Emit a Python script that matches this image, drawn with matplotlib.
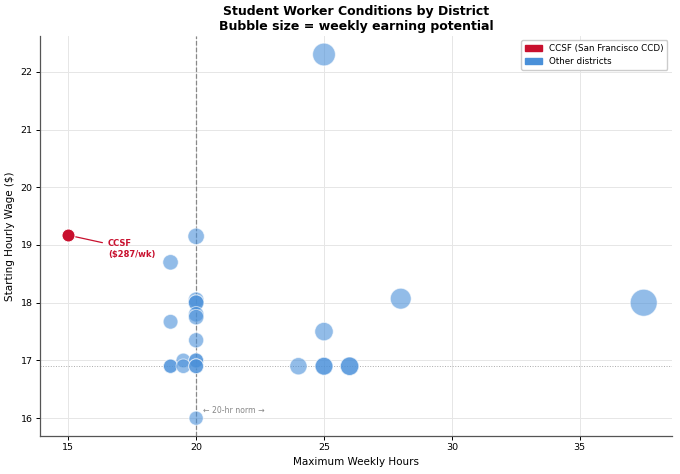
import numpy as np
import matplotlib
matplotlib.use('Agg')
import matplotlib.pyplot as plt
from matplotlib.patches import Patch

# CCSF point
ccsf_hours = [15]
ccsf_wage = [19.17]

# other districts (max weekly hours, starting hourly wage)
other_hours = [25, 20, 19, 20, 20, 20, 20, 20, 19, 20, 19.5, 20, 20,
               19, 19, 19.5, 20, 20, 20, 24, 25, 25, 26, 26, 25, 28, 37.5]
other_wage = [22.3, 19.15, 18.7, 18.05, 18.0, 18.0, 17.8, 17.75, 17.67, 17.35, 17.0, 17.0, 17.0,
              16.9, 16.9, 16.9, 16.9, 16.9, 16.0, 16.9, 16.9, 16.9, 16.9, 16.9, 17.5, 18.07, 18.0]

median_wage = 16.9
norm_hours = 20


def bubble_size(hours, wage):
    weekly = np.array(hours) * np.array(wage)
    d_px = 13 + (weekly - 287) * 0.036
    return (d_px * 0.72) ** 2


fig = plt.figure(figsize=(6.8, 4.74), dpi=100)
ax = fig.add_axes([0.059, 0.08, 0.929, 0.844])

ax.grid(True, color='#e6e6e6', linewidth=0.7)
ax.set_axisbelow(True)

ax.axvline(norm_hours, color='#888888', linestyle='--', linewidth=0.9, zorder=1)
ax.axhline(median_wage, color='#aaaaaa', linestyle=':', linewidth=0.7, zorder=1)

ax.scatter(other_hours, other_wage, s=bubble_size(other_hours, other_wage),
           color='#4a90d9', alpha=0.6, edgecolors='white', linewidths=0.7, zorder=3)
ax.scatter(ccsf_hours, ccsf_wage, s=bubble_size(ccsf_hours, ccsf_wage),
           color='#c8102e', edgecolors='white', linewidths=0.7, zorder=4)

weekly_ccsf = int(ccsf_hours[0] * ccsf_wage[0])
ax.annotate(f'CCSF\n(${weekly_ccsf}/wk)', xy=(ccsf_hours[0], ccsf_wage[0]),
            xytext=(16.55, 18.93), ha='left', va='center', fontsize=6,
            fontweight='bold', color='#c8102e',
            arrowprops=dict(arrowstyle='-', color='#c8102e', lw=0.9))

ax.text(20.25, 16.14, '\u2190 20-hr norm \u2192', fontsize=5.6, color='#888888',
        ha='left', va='center')

ax.set_xlim(13.9, 38.6)
ax.set_ylim(15.69, 22.62)
ax.set_xticks([15, 20, 25, 30, 35])
ax.set_yticks([16, 17, 18, 19, 20, 21, 22])
ax.tick_params(labelsize=6.8, length=2.8, width=0.7, pad=2.5)

ax.set_xlabel('Maximum Weekly Hours', fontsize=7.5, labelpad=3)
ax.set_ylabel('Starting Hourly Wage ($)', fontsize=7.5, labelpad=4)
ax.set_title('Student Worker Conditions by District\nBubble size = weekly earning potential',
             fontsize=9, fontweight='bold', pad=4)

for side in ['top', 'right']:
    ax.spines[side].set_visible(False)
for side in ['left', 'bottom']:
    ax.spines[side].set_color('#555555')
    ax.spines[side].set_linewidth(0.9)

handles = [Patch(color='#c8102e', label='CCSF (San Francisco CCD)'),
           Patch(color='#4a90d9', label='Other districts')]
ax.legend(handles=handles, loc='upper right', fontsize=6.3, framealpha=1)

fig.savefig('out.png', dpi=100)
